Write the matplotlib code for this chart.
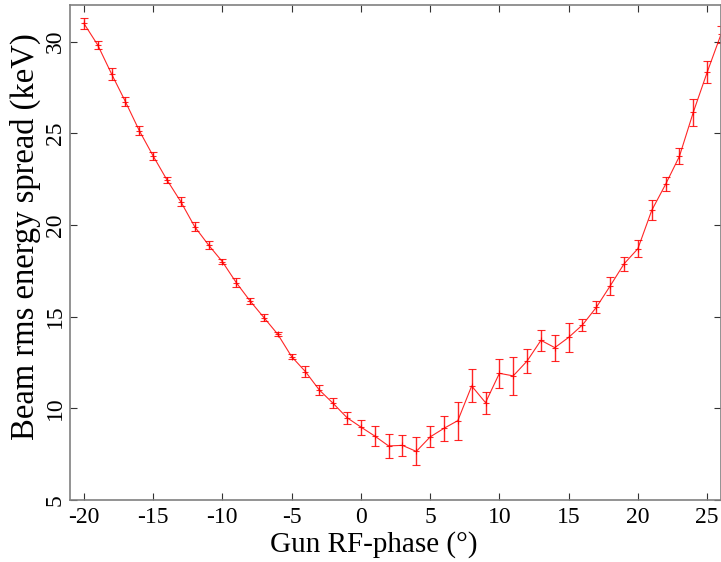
import numpy as np
import matplotlib.pyplot as plt

plt.rcParams['font.family'] = ['Liberation Serif', 'DejaVu Serif']
plt.rcParams['axes.unicode_minus'] = False

# gun RF phase (deg)
phase = list(range(-20, 27))

# rms energy spread (keV)
spread = [31.0, 29.82, 28.24, 26.73, 25.15, 23.77, 22.46, 21.27, 19.91, 18.91,
          18.0, 16.86, 15.86, 14.95, 14.04, 12.82, 12.0, 11.0, 10.27, 9.49,
          8.98, 8.49, 7.95, 7.98, 7.65, 8.44, 8.91, 9.33, 11.22, 10.31,
          11.91, 11.77, 12.58, 13.71, 13.31, 13.87, 14.55, 15.51, 16.68, 17.88,
          18.71, 20.8, 22.22, 23.75, 26.15, 28.33, 30.4]

# error bar half-width (keV)
err = [0.3, 0.24, 0.32, 0.25, 0.25, 0.23, 0.15, 0.25, 0.25, 0.23,
       0.15, 0.25, 0.15, 0.17, 0.1, 0.15, 0.3, 0.27, 0.27, 0.32,
       0.41, 0.55, 0.67, 0.58, 0.76, 0.57, 0.67, 1.04, 0.9, 0.6,
       0.8, 1.02, 0.64, 0.58, 0.71, 0.79, 0.32, 0.32, 0.48, 0.38,
       0.45, 0.55, 0.38, 0.44, 0.73, 0.61, 0.46]

fig = plt.figure(figsize=(7.21, 5.62), dpi=100)
ax = fig.add_axes([70/721, 62/562, 651/721, 495/562])

ax.errorbar(phase, spread, yerr=err, color='red', lw=0.8, elinewidth=1.0,
            capsize=3, capthick=1.0, marker='+', ms=4, mew=0.8, alpha=0.85)

ax.set_xlim(-21, 26)
ax.set_ylim(5, 32)
ax.set_xticks(range(-20, 26, 5))
ax.set_yticks(range(5, 31, 5))
for lbl in ax.get_yticklabels():
    lbl.set_rotation(90)
    lbl.set_va('center')

ax.tick_params(direction='in', top=True, right=True, length=5, width=0.8,
               labelsize=17, color='#333333')
ax.tick_params(axis='y', pad=3)
ax.tick_params(axis='x', pad=5)
for s in ax.spines.values():
    s.set_color('#808080')
    s.set_linewidth(1.2)

ax.set_xlabel('Gun RF-phase (°)', fontsize=21)
ax.set_ylabel('Beam rms energy spread (keV)', fontsize=23.5)
ax.xaxis.set_label_coords((374 - 70) / 651, -0.062)
ax.yaxis.set_label_coords((41 - 70) / 651, 0.532)

fig.savefig('out.png', dpi=100)
